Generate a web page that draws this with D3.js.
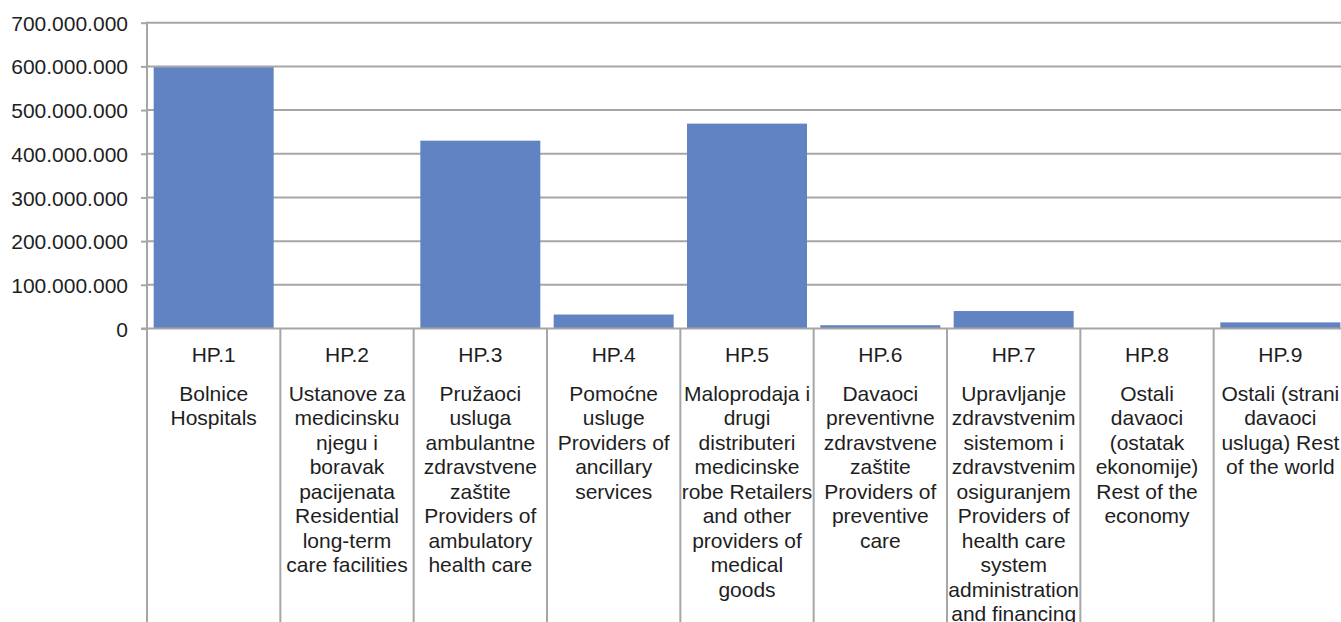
<!DOCTYPE html>
<html>
<head>
<meta charset="utf-8">
<script src="https://cdn.jsdelivr.net/npm/d3@7"></script>
<style>
  body { margin: 0; background: #fff; }
  svg text { font-family: "Liberation Sans", Arial, sans-serif; fill: #1e1e1e; }
</style>
</head>
<body>
<div id="chart"></div>
<script>
// data
var codes = ["HP.1", "HP.2", "HP.3", "HP.4", "HP.5", "HP.6", "HP.7", "HP.8", "HP.9"];
var values = [598000000, 1000000, 430000000, 32000000, 469000000, 7500000, 40000000, 800000, 14000000];
var labels = [
  ["Bolnice", "Hospitals"],
  ["Ustanove za", "medicinsku", "njegu i", "boravak", "pacijenata", "Residential", "long-term", "care facilities"],
  ["Pružaoci", "usluga", "ambulantne", "zdravstvene", "zaštite", "Providers of", "ambulatory", "health care"],
  ["Pomoćne", "usluge", "Providers of", "ancillary", "services"],
  ["Maloprodaja i", "drugi", "distributeri", "medicinske", "robe Retailers", "and other", "providers of", "medical", "goods"],
  ["Davaoci", "preventivne", "zdravstvene", "zaštite", "Providers of", "preventive", "care"],
  ["Upravljanje", "zdravstvenim", "sistemom i", "zdravstvenim", "osiguranjem", "Providers of", "health care", "system", "administration", "and financing"],
  ["Ostali", "davaoci", "(ostatak", "ekonomije)", "Rest of the", "economy"],
  ["Ostali (strani", "davaoci", "usluga) Rest", "of the world"]
];
var yTicks = [0, 100000000, 200000000, 300000000, 400000000, 500000000, 600000000, 700000000];

var w = 1341;
var h = 622;
var left = 147;
var right = 1347;
var y0 = 328.5;
var yTop = 22.7;
var grey = "#a6a6a6";
var fs = "21px";

var locale = d3.formatLocale({decimal: ",", thousands: ".", grouping: [3], currency: ["", ""]});
var fmt = locale.format(",.0f");

var svg = d3.select("#chart")
  .append("svg")
  .attr("width", w)
  .attr("height", h);

var xScale = d3.scaleBand()
  .domain(codes)
  .range([left, right])
  .paddingInner(0.1)
  .paddingOuter(0.05);
var step = xScale.step();

var yScale = d3.scaleLinear()
  .domain([0, 700000000])
  .range([y0, yTop]);

// gridlines
svg.append("g")
  .selectAll("line")
  .data(yTicks.slice(1))
  .enter()
  .append("line")
  .attr("x1", left)
  .attr("x2", w)
  .attr("y1", function(d) { return yScale(d); })
  .attr("y2", function(d) { return yScale(d); })
  .attr("stroke", grey)
  .attr("stroke-width", 2);

// bars
svg.append("g")
  .selectAll("rect")
  .data(values)
  .enter()
  .append("rect")
  .attr("x", function(d, i) { return xScale(codes[i]); })
  .attr("width", xScale.bandwidth())
  .attr("y", function(d) { return yScale(d); })
  .attr("height", function(d) { return y0 - yScale(d); })
  .attr("fill", "#6283c2");

// y axis
var yAxis = d3.axisLeft(yScale)
  .tickValues(yTicks)
  .tickFormat(fmt)
  .tickSize(6)
  .tickPadding(13);
var gy = svg.append("g")
  .attr("transform", "translate(" + left + ",0)")
  .call(yAxis);
gy.select(".domain").remove();
gy.selectAll(".tick line").attr("stroke", grey).attr("stroke-width", 2);
gy.selectAll(".tick text")
  .attr("font-size", fs)
  .attr("dy", "0.36em")
  .style("font-family", "'Liberation Sans', Arial, sans-serif")
  .attr("fill", "#1e1e1e");

// left axis line runs down through the label area
svg.append("line")
  .attr("x1", left).attr("x2", left)
  .attr("y1", yTop - 1).attr("y2", h)
  .attr("stroke", grey).attr("stroke-width", 2);

// zero line
svg.append("line")
  .attr("x1", left - 6).attr("x2", w)
  .attr("y1", y0).attr("y2", y0)
  .attr("stroke", grey).attr("stroke-width", 2);

// category separators
svg.append("g")
  .selectAll("line")
  .data(codes.slice(1))
  .enter()
  .append("line")
  .attr("x1", function(d) { return xScale(d) - step * 0.05; })
  .attr("x2", function(d) { return xScale(d) - step * 0.05; })
  .attr("y1", y0)
  .attr("y2", h)
  .attr("stroke", grey)
  .attr("stroke-width", 2);

// category labels
var cat = svg.append("g")
  .selectAll("g")
  .data(codes)
  .enter()
  .append("g")
  .attr("transform", function(d) { return "translate(" + (xScale(d) + xScale.bandwidth() / 2) + ",0)"; });

cat.append("text")
  .attr("y", 362)
  .attr("text-anchor", "middle")
  .attr("font-size", fs)
  .text(function(d) { return d; });

cat.each(function(d, i) {
  d3.select(this).selectAll("text.lbl")
    .data(labels[i])
    .enter()
    .append("text")
    .attr("class", "lbl")
    .attr("y", function(t, j) { return 400.5 + j * 24.5; })
    .attr("text-anchor", "middle")
    .attr("font-size", fs)
    .text(function(t) { return t; });
});
</script>
</body>
</html>
